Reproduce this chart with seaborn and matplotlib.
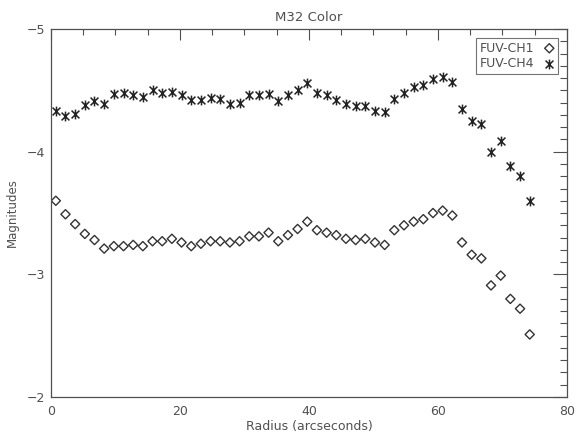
import matplotlib
matplotlib.use('Agg')
import matplotlib.pyplot as plt
import seaborn as sns
import pandas as pd
from matplotlib.path import Path
from matplotlib.ticker import MultipleLocator

# Radius of each annulus (arcseconds)
radius = [0.75, 2.25, 3.75, 5.25, 6.75, 8.25, 9.75, 11.25, 12.75, 14.25,
          15.75, 17.25, 18.75, 20.25, 21.75, 23.25, 24.75, 26.25, 27.75, 29.25,
          30.75, 32.25, 33.75, 35.25, 36.75, 38.25, 39.75, 41.25, 42.75, 44.25,
          45.75, 47.25, 48.75, 50.25, 51.75, 53.25, 54.75, 56.25, 57.75, 59.25,
          60.75, 62.25, 63.75, 65.25, 66.75, 68.25, 69.75, 71.25, 72.75, 74.25]

fuv_ch1 = [-3.60, -3.49, -3.41, -3.33, -3.28, -3.21, -3.23, -3.23, -3.24, -3.23,
           -3.27, -3.27, -3.29, -3.26, -3.23, -3.25, -3.27, -3.27, -3.26, -3.27,
           -3.31, -3.31, -3.34, -3.27, -3.32, -3.37, -3.43, -3.36, -3.34, -3.32,
           -3.29, -3.28, -3.29, -3.26, -3.24, -3.36, -3.40, -3.43, -3.45, -3.50,
           -3.52, -3.48, -3.26, -3.16, -3.13, -2.91, -2.99, -2.80, -2.72, -2.51]

fuv_ch4 = [-4.33, -4.29, -4.31, -4.38, -4.41, -4.39, -4.47, -4.48, -4.46, -4.45,
           -4.50, -4.48, -4.49, -4.46, -4.42, -4.42, -4.44, -4.43, -4.39, -4.40,
           -4.46, -4.46, -4.47, -4.41, -4.46, -4.50, -4.56, -4.48, -4.46, -4.42,
           -4.39, -4.37, -4.37, -4.33, -4.32, -4.43, -4.48, -4.53, -4.54, -4.59,
           -4.61, -4.57, -4.35, -4.25, -4.23, -4.00, -4.09, -3.88, -3.80, -3.60]

df = pd.DataFrame({'Radius': radius, 'FUV-CH1': fuv_ch1, 'FUV-CH4': fuv_ch4})

sns.set_style('white')
plt.rcParams['font.family'] = ['DejaVu Sans']

ink = '#505050'

# IDL-style asterisk: vertical bar plus an X
star = Path([(0, -1), (0, 1), (-0.8, -0.8), (0.8, 0.8), (-0.8, 0.8), (0.8, -0.8)],
            [Path.MOVETO, Path.LINETO, Path.MOVETO, Path.LINETO, Path.MOVETO, Path.LINETO])

fig = plt.figure(figsize=(5.76, 4.37), dpi=100)
ax = fig.add_axes([0.0885, 0.0915, 0.8955, 0.842])

sns.scatterplot(x='Radius', y='FUV-CH1', data=df, ax=ax, marker='D', s=22,
                facecolors='none', edgecolor='#333333', linewidth=1.0, label='FUV-CH1')
sns.scatterplot(x='Radius', y='FUV-CH4', data=df, ax=ax, marker=star, s=50,
                color='#222222', edgecolor='#222222', linewidth=1.1, label='FUV-CH4')

ax.set_xlim(0, 80)
ax.set_ylim(-2, -5)
ax.xaxis.set_major_locator(MultipleLocator(20))
ax.xaxis.set_minor_locator(MultipleLocator(5))
ax.yaxis.set_major_locator(MultipleLocator(1))
ax.yaxis.set_minor_locator(MultipleLocator(0.1))

ax.tick_params(which='both', direction='in', top=True, right=True, colors=ink,
               labelsize=9, width=0.8)
ax.tick_params(axis='x', which='major', length=8, pad=6)
ax.tick_params(axis='x', which='minor', length=4)
ax.tick_params(axis='y', which='major', length=10, pad=4)
ax.tick_params(axis='y', which='minor', length=5)
for sp in ax.spines.values():
    sp.set_color(ink)
    sp.set_linewidth(0.9)

ax.set_title('M32 Color', fontsize=9.5, color=ink, pad=6)
ax.set_xlabel('Radius (arcseconds)', fontsize=9, color=ink, labelpad=1)
ax.set_ylabel('Magnitudes', fontsize=8.5, color=ink, labelpad=6)

leg = ax.legend(loc='upper right', markerfirst=False, fancybox=False, frameon=True,
                fontsize=9, handletextpad=0.8, borderpad=0.3, labelspacing=0.2,
                handlelength=0.8, borderaxespad=0.7)
leg.get_frame().set_edgecolor(ink)
leg.get_frame().set_linewidth(0.8)
for t in leg.get_texts():
    t.set_color(ink)

fig.savefig('out.png', dpi=100)
